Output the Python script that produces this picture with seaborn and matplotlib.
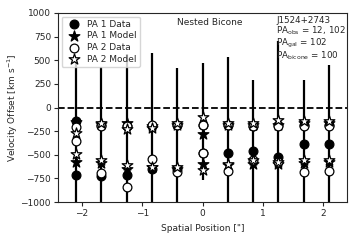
import numpy as np
import pandas as pd
import matplotlib
matplotlib.use("Agg")
import matplotlib.pyplot as plt
import seaborn as sns

# spatial positions along the slit (arcsec)
positions = [-2.1, -1.68, -1.26, -0.84, -0.42, 0.0, 0.42, 0.84, 1.26, 1.68, 2.1]

# two velocity components per position, per series (km/s)
pa1_data_a = [-140, -190, -195, -200, -185, -180, -180, -200, -185, -190, -190]
pa1_data_b = [-710, -720, -710, -655, -645, -480, -480, -460, -520, -390, -390]
pa1_model_a = [-150, -170, -165, -200, -190, -280, -180, -190, -190, -160, -160]
pa1_model_b = [-575, -590, -650, -630, -650, -600, -610, -595, -600, -585, -575]
pa2_data_a = [-205, -200, -200, -186, -190, -180, -190, -196, -200, -196, -196]
pa2_data_b = [-350, -695, -845, -540, -680, -485, -670, -557, -580, -685, -672]
pa2_model_a = [-265, -165, -230, -220, -160, -100, -165, -165, -130, -145, -140]
pa2_model_b = [-490, -550, -610, -625, -630, -660, -600, -560, -575, -555, -550]

# extent of the vertical error bars
err_top = [520, 433, 568, 575, 422, 476, 533, 292, 702, 292, 448]
err_bottom = [-1100, -1100, -1100, -1100, -1100, -770, -1100, -1100, -1100, -1100, -1100]

sns.set_style("ticks")
plt.rcParams['font.family'] = ['DejaVu Sans']

fig, ax = plt.subplots(figsize=(3.6, 2.4), dpi=100)
fig.subplots_adjust(left=0.161, right=0.964, bottom=0.158, top=0.946)

ax.vlines(positions, err_bottom, err_top, color='k', lw=1.6, zorder=1)
ax.axhline(0, color='k', ls='--', lw=1.3, zorder=1)

series = [
    ("PA 1 Data", pa1_data_a, pa1_data_b, 'o', 'k', 40),
    ("PA 1 Model", pa1_model_a, pa1_model_b, '*', 'k', 65),
    ("PA 2 Data", pa2_data_a, pa2_data_b, 'o', 'white', 40),
    ("PA 2 Model", pa2_model_a, pa2_model_b, '*', 'white', 65),
]
for i, (label, va, vb, mk, fc, size) in enumerate(series):
    df = pd.DataFrame({'x': positions + positions, 'y': va + vb})
    sns.scatterplot(data=df, x='x', y='y', marker=mk, s=size, color=fc,
                    edgecolor='k', linewidth=0.9, label=label, ax=ax,
                    zorder=2 + i)

ax.set_xlim(-2.4, 2.4)
ax.set_ylim(-1000, 1000)
ax.set_yticks(np.arange(-1000, 1001, 250))
ax.set_xticks([-2, -1, 0, 1, 2])
ax.tick_params(labelsize=6.5, length=3, pad=2)
ax.set_xlabel('Spatial Position ["]', fontsize=6.5, labelpad=4)
ax.set_ylabel(r'Velocity Offset [km s$^{-1}$]', fontsize=6.5)
ax.yaxis.set_label_coords(-0.132, 0.5)
for s in ax.spines.values():
    s.set_visible(True)
    s.set_linewidth(0.8)

ax.text(0.525, 0.975, "Nested Bicone", transform=ax.transAxes, fontsize=6.5,
        ha='center', va='top')
ax.text(0.755, 0.985, "J1524+2743\n" + r"PA$_{\rm obs}$ = 12, 102" + "\n"
        + r"PA$_{\rm gal}$ = 102" + "\n" + r"PA$_{\rm bicone}$ = 100",
        transform=ax.transAxes, fontsize=6.3, ha='left', va='top',
        linespacing=0.95)

ax.legend(loc='upper left', fontsize=6.5, handletextpad=0.5, borderpad=0.35,
          labelspacing=0.3, framealpha=0.8, borderaxespad=0.4)

fig.savefig("out.png", dpi=100)
